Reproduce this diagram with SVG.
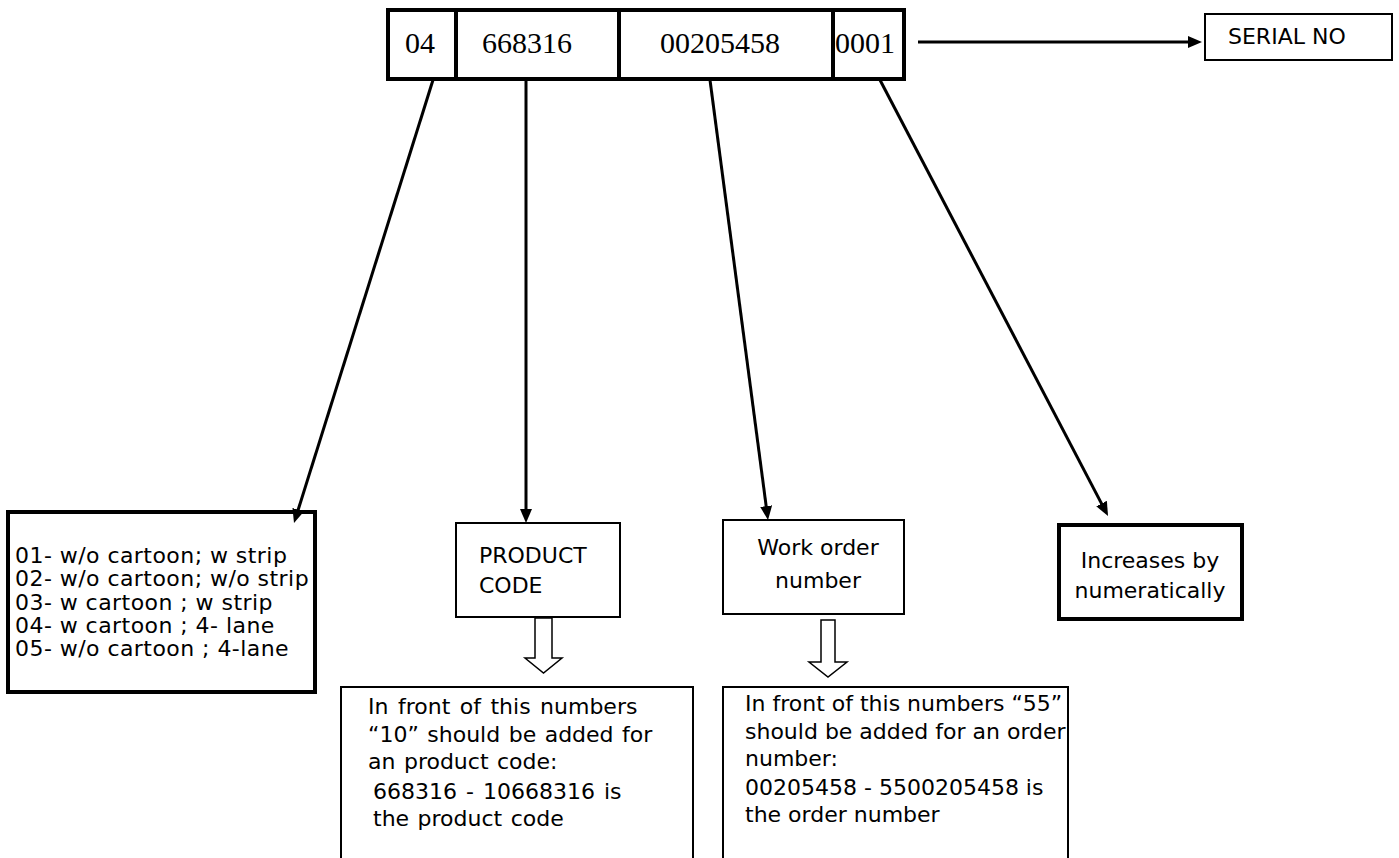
<svg xmlns="http://www.w3.org/2000/svg" width="1399" height="858" viewBox="0 0 1399 858">
  <defs>
    <marker id="ah" viewBox="0 0 14 12" refX="4" refY="6" markerWidth="14" markerHeight="12" markerUnits="userSpaceOnUse" orient="auto">
      <path d="M0,0 L14,6 L0,12 z" fill="#000"/>
    </marker>
    <style>
      .thick { fill: #fff; stroke: #000; stroke-width: 4; }
      .thin { fill: #fff; stroke: #000; stroke-width: 2; }
      .serif { font-family: "Liberation Serif", "Times New Roman", serif; font-size: 30px; fill: #000; }
      .sans { font-family: "DejaVu Sans", Verdana, sans-serif; font-size: 22px; fill: #000; }
      .list { letter-spacing: 0.45px; }
      .conn { stroke: #000; stroke-width: 3; fill: none; marker-end: url(#ah); }
      .hollow { fill: #fff; stroke: #000; stroke-width: 1.5; }
    </style>
  </defs>
  <rect width="1399" height="858" fill="#fff"/>

  <g id="code-bar">
    <g id="seg-04">
      <rect class="thick" x="388" y="10" width="68" height="69"/>
      <text class="serif" x="405" y="53">04</text>
    </g>
    <g id="seg-668316">
      <rect class="thick" x="456" y="10" width="163" height="69"/>
      <text class="serif" x="482" y="53">668316</text>
    </g>
    <g id="seg-00205458">
      <rect class="thick" x="619" y="10" width="214" height="69"/>
      <text class="serif" x="660" y="53">00205458</text>
    </g>
    <g id="seg-0001">
      <rect class="thick" x="833" y="10" width="71" height="69"/>
      <text class="serif" x="835" y="53">0001</text>
    </g>
  </g>

  <g id="serial-no">
    <rect class="thin" x="1205" y="14" width="187" height="46"/>
    <text class="sans" x="1228" y="44">SERIAL NO</text>
  </g>

  <g id="type-list">
    <rect class="thick" x="8" y="512" width="307" height="180"/>
    <text class="sans list" x="15" y="563">01- w/o cartoon; w strip</text>
    <text class="sans list" x="15" y="586">02- w/o cartoon; w/o strip</text>
    <text class="sans list" x="15" y="610">03- w cartoon ; w strip</text>
    <text class="sans list" x="15" y="633">04- w cartoon ; 4- lane</text>
    <text class="sans list" x="15" y="656">05- w/o cartoon ; 4-lane</text>
  </g>

  <g id="product-code">
    <rect class="thin" x="456" y="523" width="164" height="94"/>
    <text class="sans" x="479" y="563">PRODUCT</text>
    <text class="sans" x="479" y="593">CODE</text>
  </g>

  <g id="work-order">
    <rect class="thin" x="723" y="520" width="181" height="94"/>
    <text class="sans" x="818" y="555" text-anchor="middle">Work order</text>
    <text class="sans" x="818" y="588" text-anchor="middle">number</text>
  </g>

  <g id="increases">
    <rect class="thick" x="1059" y="525" width="183" height="94"/>
    <text class="sans" x="1150" y="568" text-anchor="middle">Increases by</text>
    <text class="sans" x="1150" y="598" text-anchor="middle">numeratically</text>
  </g>

  <g id="product-note">
    <rect class="thin" x="341" y="687" width="352" height="180"/>
    <text class="sans" x="368" y="714" word-spacing="2.5">In front of this numbers</text>
    <text class="sans" x="368" y="742" word-spacing="1.5">“10” should be added for</text>
    <text class="sans" x="368" y="769" word-spacing="1.5">an product code:</text>
    <text class="sans" x="373" y="799" word-spacing="2">668316 - 10668316 is</text>
    <text class="sans" x="373" y="826" word-spacing="1.5">the product code</text>
  </g>

  <g id="order-note">
    <rect class="thin" x="723" y="687" width="345" height="180"/>
    <text class="sans" x="745" y="711">In front of this numbers “55”</text>
    <text class="sans" x="745" y="739">should be added for an order</text>
    <text class="sans" x="745" y="766">number:</text>
    <text class="sans" x="745" y="795">00205458 - 5500205458 is</text>
    <text class="sans" x="745" y="822">the order number</text>
  </g>

  <g id="connectors">
    <line class="conn" x1="918" y1="42" x2="1192" y2="42"/>
    <line class="conn" x1="433" y1="80" x2="297" y2="513.5"/>
    <line class="conn" x1="526" y1="80" x2="526" y2="513"/>
    <line class="conn" x1="710" y1="80" x2="766.7" y2="510.1"/>
    <line class="conn" x1="880" y1="80" x2="1103.4" y2="507.1"/>
    <polygon class="hollow" points="535,618 552,618 552,658 562,658 543.5,673 525,658 535,658"/>
    <polygon class="hollow" points="821,620 835,620 835,662 847,662 828,677 809,662 821,662"/>
  </g>
</svg>
